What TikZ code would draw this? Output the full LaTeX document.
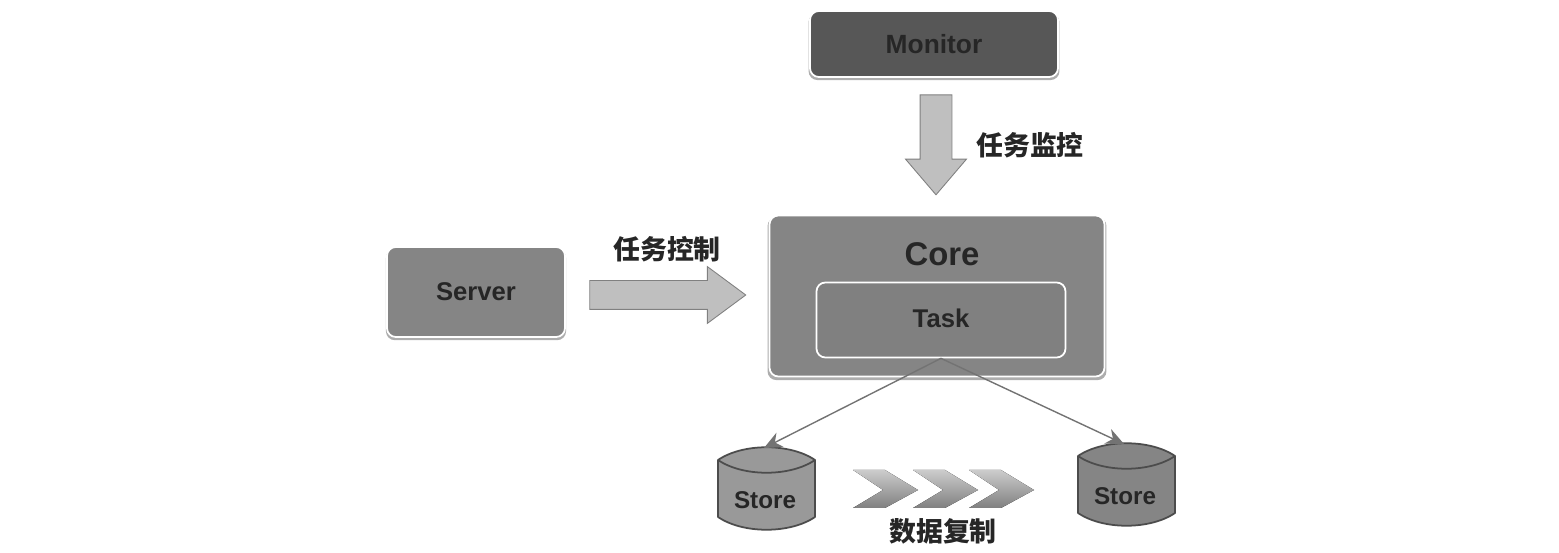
\documentclass[tikz,border=0pt]{standalone}
\usepackage{fontspec}
\setmainfont{Liberation Sans}
\newfontfamily\cjk{Noto Sans CJK SC}
\usetikzlibrary{shapes.arrows,shadows,arrows.meta}
\tikzset{
  boxnode/.style={rectangle,rounded corners=5pt,draw=white,line width=1pt,inner sep=0pt,
    drop shadow={shadow xshift=0pt,shadow yshift=-1.5pt,shadow scale=1.012,fill=black!32,opacity=1}},
  bigarrow/.style={single arrow,inner sep=0pt,fill=black!25,draw=black!50,line width=.5pt,
    single arrow head indent=0pt,text depth=0pt},
  latin/.style={font=\bfseries\fontsize{#1}{#1}\selectfont,text=black!85},
  hanzi/.style={font=\cjk\bfseries\fontsize{15.3}{16}\selectfont,text=black!85},
  line/.style={draw=black!55,line width=.8pt,-{Stealth[length=3.6mm,width=3.2mm]}}
}
\begin{document}
\begin{tikzpicture}[x=0.02cm,y=-0.02cm]
\useasboundingbox (0,0) rectangle (1559,553);
\node[boxnode,fill=black!66,minimum width=4.96cm,minimum height=1.32cm,latin=15] (monitor) at (934,44) {Monitor};
\node[boxnode,fill=black!48,minimum width=3.56cm,minimum height=1.8cm,latin=14.6] (server) at (476,292) {Server};
\node[boxnode,fill=black!48,minimum width=6.7cm,minimum height=3.22cm] (core) at (937,296) {};
\node[latin=18.7] (corelabel) at (942,254) {Core};
\node[rectangle,rounded corners=5pt,draw=white,line width=1pt,inner sep=0pt,fill=black!50,
  minimum width=4.98cm,minimum height=1.5cm,text depth=2.5pt,latin=14.6] (task) at (941,320) {Task};
\node[bigarrow,text height=.56cm,minimum height=3.12cm,single arrow head extend=.28cm,single arrow tip angle=73] (ctrlarrow) at (658,295) {};
\node[bigarrow,rotate=-90,text height=.62cm,minimum height=2cm,single arrow head extend=.29cm,single arrow tip angle=81] (monarrow) at (936,135.5) {};
\node[hanzi] (ctrllabel) at (667,249) {任务控制};
\node[hanzi] (monlabel) at (1030,145) {任务监控};
\node[hanzi] (copylabel) at (943,531) {数据复制};
% two stores, top left corner of each
\foreach \n/\x/\y/\c in {1/718/447/40, 2/1078/443/48}
{
  \begin{scope}[shift={(\x,\y)}]
    \draw[fill=black!\c,draw=black!70,line width=1pt,line join=round]
      (0,13) .. controls (25,-4) and (72,-4) .. (97,13) -- (97,70)
      .. controls (72,87) and (25,87) .. (0,70) -- cycle;
    \draw[draw=black!70,line width=1pt] (0,13) .. controls (25,30) and (72,30) .. (97,13);
    \node[latin=13.8] (store\n) at (47,53) {Store};
    \coordinate (storetop\n) at (46,1);
  \end{scope}
}
\draw[line] (task.south) -- (storetop1);
\draw[line] (task.south) -- (storetop2);
% chevrons between the stores
\foreach \x in {853, 913, 969}
  \fill[top color=black!20,bottom color=black!50]
    (\x,470) -- (\x+32,470) -- (\x+65,490) -- (\x+32,508) -- (\x,508) -- (\x+30,490) -- cycle;
\end{tikzpicture}
\end{document}
